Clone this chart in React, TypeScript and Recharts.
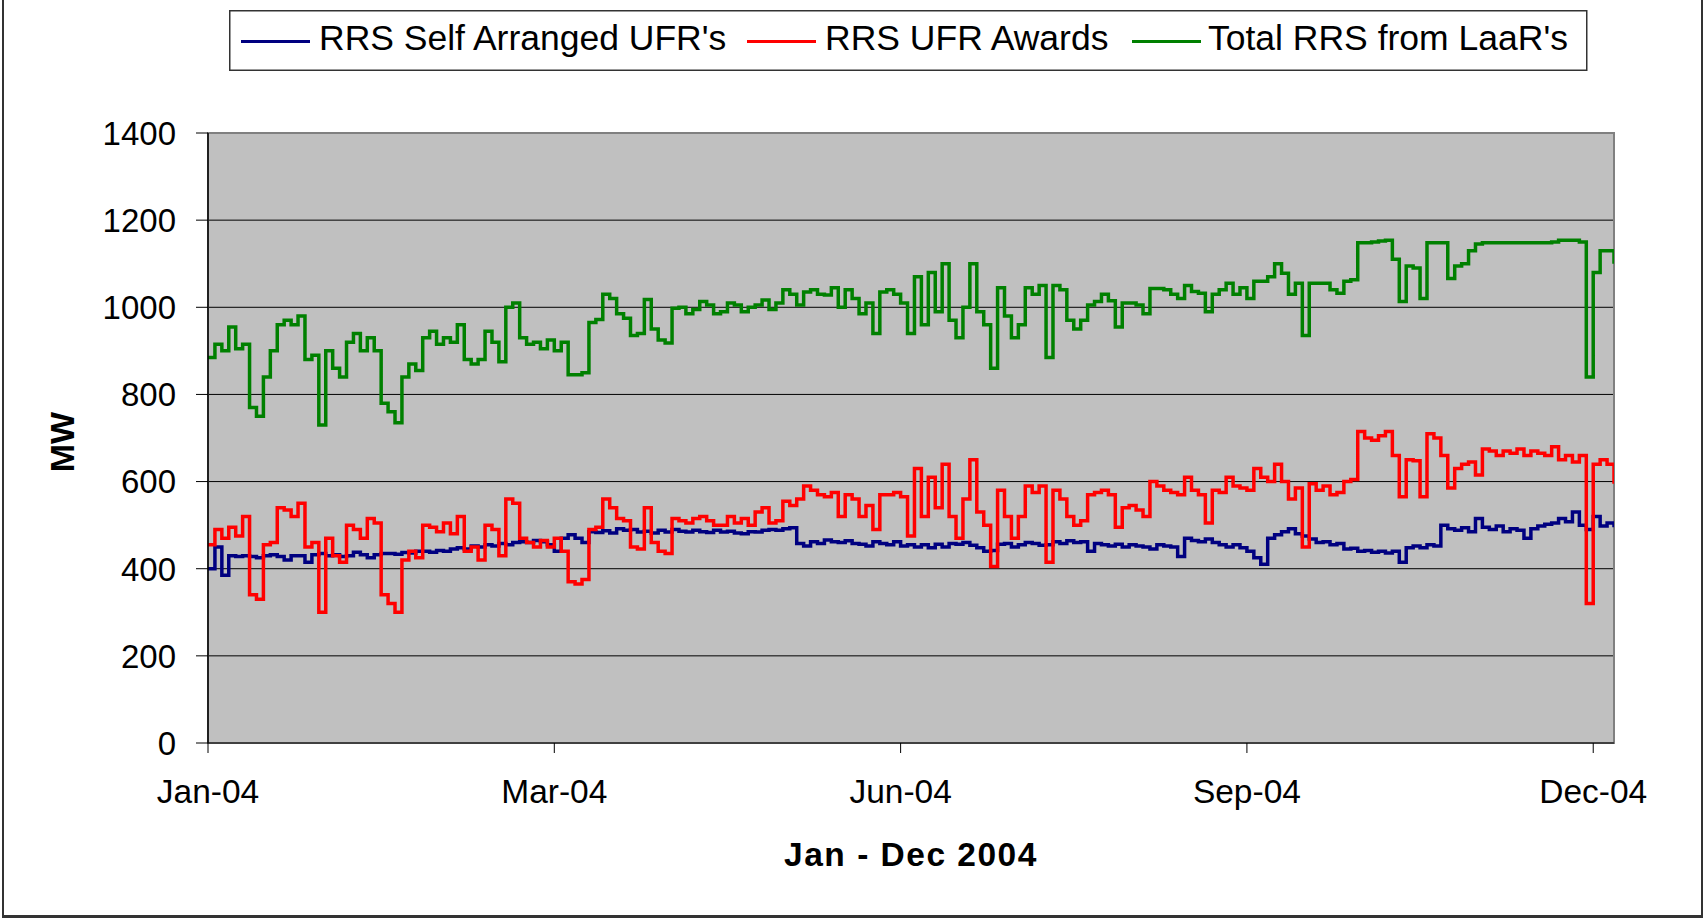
import React from 'react';
import { LineChart, Line, XAxis, YAxis, CartesianGrid, Legend, ReferenceArea, Label } from 'recharts';

const FONT = '"Liberation Sans", Arial, Helvetica, sans-serif';

// Category positions of the x-axis labels (equally spaced category ticks)
const xTickPositions = [0, 50, 100, 150, 200];
const xTickLabels = ['Jan-04', 'Mar-04', 'Jun-04', 'Sep-04', 'Dec-04'];
const yTicks = [0, 200, 400, 600, 800, 1000, 1200, 1400];

const seriesNames = ["RRS Self Arranged UFR's", 'RRS UFR Awards', "Total RRS from LaaR's"];
const seriesKeys = ['self', 'ufr', 'total'];
const seriesColors = ['#000080', '#FF0000', '#008000'];

// RRS Self Arranged UFR's (MW)
const selfArranged = [
  400, 450, 385, 430, 428, 430, 428, 425, 430, 432,
  428, 420, 430, 430, 415, 432, 435, 430, 432, 428,
  430, 438, 432, 425, 432, 435, 435, 433, 437, 436,
  440, 440, 438, 442, 440, 445, 448, 445, 452, 450,
  455, 452, 458, 455, 460, 462, 460, 465, 462, 455,
  440, 470, 478, 470, 460, 485, 483, 487, 482, 492,
  488, 490, 484, 486, 482, 488, 484, 490, 486, 484,
  488, 485, 483, 488, 484, 486, 482, 480, 485, 484,
  488, 490, 488, 492, 494, 458, 452, 462, 458, 466,
  462, 460, 464, 458, 456, 452, 462, 458, 455, 462,
  452, 455, 450, 455, 448, 456, 450, 458, 456, 460,
  454, 448, 440, 442, 456, 458, 450, 455, 460, 458,
  454, 455, 462, 458, 464, 460, 462, 440, 458, 455,
  452, 456, 450, 455, 452, 450, 445, 455, 452, 450,
  428, 470, 465, 462, 468, 460, 455, 450, 455, 448,
  440, 425, 410, 470, 478, 485, 492, 480, 475, 468,
  460, 462, 455, 458, 445, 447, 440, 442, 438, 440,
  436, 440, 415, 448, 452, 448, 455, 452, 500, 492,
  488, 494, 485, 515, 495, 490, 498, 485, 492, 488,
  470, 492, 498, 502, 505, 515, 508, 530, 500, 490,
  520, 498, 505, 495,
];

// RRS UFR Awards (MW)
const ufrAwards = [
  455, 490, 470, 495, 475, 520, 340, 330, 455, 460,
  540, 535, 520, 550, 450, 460, 300, 470, 430, 415,
  500, 490, 470, 515, 505, 340, 320, 300, 420, 440,
  425, 500, 495, 485, 505, 480, 520, 440, 450, 420,
  500, 490, 430, 560, 550, 470, 460, 450, 465, 450,
  470, 440, 370, 365, 375, 490, 495, 560, 540, 515,
  510, 450, 445, 540, 460, 440, 435, 515, 510, 505,
  515, 520, 510, 500, 500, 520, 505, 515, 500, 530,
  540, 505, 510, 555, 545, 560, 590, 580, 570, 565,
  575, 520, 570, 560, 520, 545, 490, 570, 570, 575,
  565, 475, 630, 520, 610, 540, 640, 520, 470, 560,
  650, 530, 500, 405, 580, 520, 470, 520, 590, 575,
  590, 415, 580, 560, 520, 500, 510, 570, 575, 580,
  570, 495, 540, 545, 535, 520, 600, 590, 580, 575,
  570, 610, 580, 570, 505, 580, 575, 610, 590, 585,
  580, 630, 610, 600, 640, 600, 560, 585, 450, 595,
  580, 590, 570, 575, 600, 605, 715, 700, 695, 705,
  715, 660, 565, 650, 648, 565, 710, 700, 660, 585,
  630, 640, 645, 615, 675, 670, 660, 670, 665, 675,
  660, 670, 665, 660, 680, 650, 660, 645, 660, 320,
  640, 650, 640, 595,
];

// Total RRS from LaaR's (MW)
const totalLaar = [
  885, 915, 900, 955, 905, 915, 770, 750, 840, 900,
  960, 970, 960, 980, 880, 890, 730, 900, 860, 840,
  920, 940, 900, 930, 900, 780, 760, 735, 840, 870,
  855, 930, 945, 915, 930, 920, 960, 880, 870, 880,
  945, 920, 875, 1000, 1010, 930, 915, 920, 905, 925,
  900, 920, 845, 845, 850, 965, 972, 1030, 1020, 985,
  975, 935, 940, 1018, 950, 925, 918, 998, 1000, 985,
  995, 1013, 1005, 985, 990, 1010, 1005, 990, 1000, 1005,
  1017, 995, 1010, 1040, 1030, 1005, 1035, 1040, 1030, 1028,
  1045, 1000, 1040, 1020, 985, 1010, 940, 1035, 1040, 1030,
  1010, 940, 1070, 960, 1080, 990, 1100, 970, 930, 1000,
  1100, 990, 960, 860, 1045, 980, 930, 960, 1045, 1030,
  1050, 885, 1050, 1040, 970, 950, 970, 1005, 1013, 1030,
  1015, 955, 1010, 1010, 1005, 985, 1043, 1043, 1040, 1030,
  1020, 1050, 1036, 1032, 990, 1030, 1040, 1055, 1030, 1045,
  1020, 1060, 1060, 1070, 1100, 1078, 1030, 1055, 935, 1055,
  1055, 1055, 1040, 1032, 1060, 1063, 1148, 1148, 1150, 1152,
  1154, 1110, 1013, 1095, 1090, 1020, 1148, 1148, 1148, 1066,
  1095, 1100, 1130, 1145, 1148, 1148, 1148, 1148, 1148, 1148,
  1148, 1148, 1148, 1148, 1150, 1154, 1154, 1154, 1150, 840,
  1080, 1130, 1130, 1100,
];

const rows = totalLaar.map((_, i) => ({
  i,
  self: selfArranged[i],
  ufr: ufrAwards[i],
  total: totalLaar[i],
}));

const XTick = (props: any) => {
  const { x, payload } = props;
  const idx = xTickPositions.indexOf(payload.value);
  return (
    <text x={x} y={803} textAnchor="middle" fontFamily={FONT} fontSize={33.5} fill="#000">
      {xTickLabels[idx]}
    </text>
  );
};

const YTick = (props: any) => {
  const { y, payload } = props;
  return (
    <text x={176} y={y} dy="0.36em" textAnchor="end" fontFamily={FONT} fontSize={33} fill="#000">
      {payload.value}
    </text>
  );
};

const legendItems = [
  { lineX: 12, textX: 90 },
  { lineX: 518, textX: 596 },
  { lineX: 903, textX: 979 },
];

const LegendBox = () => (
  <svg width={1360} height={62} style={{ display: 'block' }}>
    <rect x={0.75} y={0.75} width={1357} height={59.5} fill="#fff" stroke="#333" strokeWidth={1.5} />
    {seriesNames.map((name, k) => (
      <g key={name}>
        <line
          x1={legendItems[k].lineX}
          x2={legendItems[k].lineX + 69}
          y1={31.5}
          y2={31.5}
          stroke={seriesColors[k]}
          strokeWidth={3}
        />
        <text x={legendItems[k].textX} y={40} fontFamily={FONT} fontSize={35.5} fill="#000">
          {name}
        </text>
      </g>
    ))}
  </svg>
);

export default function App() {
  return (
    <div style={{ position: 'absolute', left: 0, top: 0, width: 1706, height: 920, background: '#fff' }}>
      <div
        style={{
          position: 'absolute',
          left: 2,
          top: -2,
          width: 1701,
          height: 920,
          boxSizing: 'border-box',
          borderLeft: '2px solid #333',
          borderRight: '2px solid #333',
          borderBottom: '3px solid #333',
          borderTop: '2px solid #333',
        }}
      />
      <LineChart
        width={1706}
        height={920}
        data={rows}
        margin={{ top: 133, right: 92, bottom: 0, left: 0 }}
        style={{ position: 'absolute', left: 0, top: 0 }}
      >
        <CartesianGrid
          vertical={false}
          horizontal={true}
          stroke="#000"
          strokeWidth={1}
          fill="#C0C0C0"
          fillOpacity={1}
        />
        <XAxis
          type="number"
          dataKey="i"
          domain={[0, 203]}
          ticks={xTickPositions}
          interval={0}
          tick={<XTick />}
          tickSize={10}
          tickLine={{ stroke: '#000', strokeWidth: 1 }}
          axisLine={{ stroke: '#000', strokeWidth: 1 }}
          height={177}
          allowDataOverflow
        >
          <Label
            content={() => (
              <text
                x={911}
                y={866}
                textAnchor="middle"
                fontFamily={FONT}
                fontWeight="bold"
                fontSize={33.5}
                letterSpacing={1.5}
                fill="#000"
              >
                Jan - Dec 2004
              </text>
            )}
          />
        </XAxis>
        <YAxis
          type="number"
          domain={[0, 1400]}
          ticks={yTicks}
          interval={0}
          tick={<YTick />}
          tickSize={12}
          tickLine={{ stroke: '#000', strokeWidth: 1 }}
          axisLine={{ stroke: '#000', strokeWidth: 1.5 }}
          width={208}
          allowDataOverflow
        >
          <Label
            content={() => (
              <text
                x={62}
                y={442}
                dy="0.36em"
                transform="rotate(-90, 62, 442)"
                textAnchor="middle"
                fontFamily={FONT}
                fontWeight="bold"
                fontSize={34}
                fill="#000"
              >
                MW
              </text>
            )}
          />
        </YAxis>
        <ReferenceArea x1={0} x2={203} y1={0} y2={1400} fill="none" stroke="#808080" strokeWidth={2} />
        {seriesKeys.map((key, k) => (
          <Line
            key={key}
            type="stepAfter"
            dataKey={key}
            name={seriesNames[k]}
            stroke={seriesColors[k]}
            strokeWidth={3.5}
            dot={false}
            activeDot={false}
            isAnimationActive={false}
          />
        ))}
        <Legend
          layout="vertical"
          align="center"
          verticalAlign="middle"
          content={() => <LegendBox />}
          wrapperStyle={{ position: 'absolute', left: 229, top: 10, width: 1360, height: 62 }}
        />
      </LineChart>
    </div>
  );
}
